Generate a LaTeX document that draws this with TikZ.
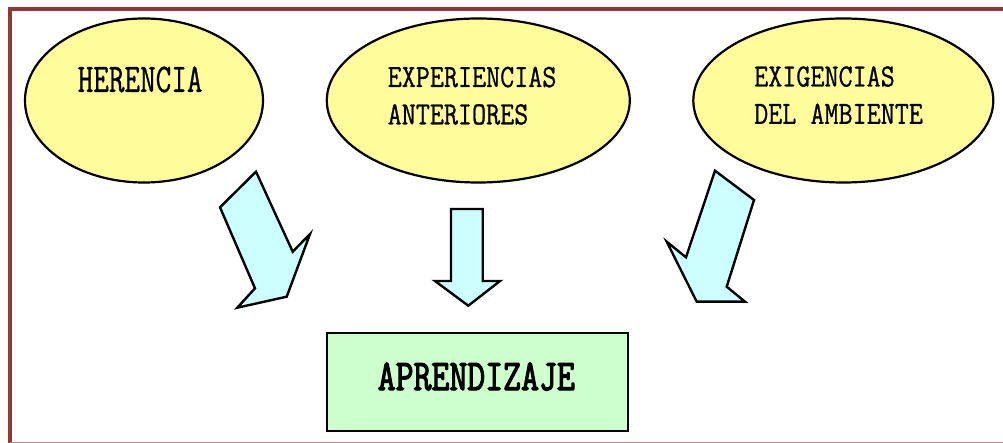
\documentclass[tikz,border=0pt]{standalone}
\usepackage{fontspec}
\setmonofont{Latin Modern Mono}
\newfontfamily\regtt{Latin Modern Mono}[FakeBold=0.8]
\newfontfamily\boldtt{Latin Modern Mono}[FakeBold=3]
\usetikzlibrary{shapes.geometric}
\definecolor{framebrown}{RGB}{148,54,52}
\definecolor{ellfill}{RGB}{255,253,153}
\definecolor{arrfill}{RGB}{204,255,255}
\definecolor{boxfill}{RGB}{204,255,204}
\begin{document}
\begin{tikzpicture}[x=1pt,y=-1pt,
  ell/.style={ellipse, draw=black, line width=2.2pt, fill=ellfill, inner sep=0pt},
  lbl/.style={anchor=base west, inner sep=0pt, font=\fontsize{30}{34.6}\selectfont\regtt},
  blk/.style={draw=black, line width=2.4pt, fill=arrfill, line join=miter},
  resultbox/.style={draw=black, line width=2.2pt, fill=boxfill, inner sep=0pt},
  boldlbl/.style={anchor=base west, inner sep=0pt, font=\fontsize{30}{36}\selectfont\boldtt}
  ]
\useasboundingbox (0,0) rectangle (1003,443);
% frame
\draw[framebrown, line width=4pt, line join=miter] (10,443) -- (10,9) -- (1003,9);
\draw[framebrown!60, line width=1pt] (10,442.5) -- (1003,442.5);
% ellipses
\node[ell, minimum width=238pt, minimum height=164pt] (e1) at (144,100.5) {};
\node[ell, minimum width=303pt, minimum height=164pt] (e2) at (478.3,100.5) {};
\node[ell, minimum width=300pt, minimum height=164pt] (e3) at (843.3,100.5) {};
% texts
\node[lbl] (t1) at (77.5,92) {\scalebox{1.01}[1.36]{HERENCIA}};
\node[lbl] (t2) at (387.5,87) {\scalebox{0.91}[1.08]{\begin{tabular}[t]{@{}l@{}}EXPERIENCIAS\\ANTERIORES\end{tabular}}};
\node[lbl] (t3) at (754,86.5) {\scalebox{0.91}[1.08]{\begin{tabular}[t]{@{}l@{}}EXIGENCIAS\\DEL AMBIENTE\end{tabular}}};
% block arrows
\draw[blk] (256,171.7) -- (220,207.3) -- (255,288.3) -- (237.3,307.7) -- (286.7,296.7)
  -- (310,234) -- (292.7,251.7) -- cycle;
\draw[blk] (451,209) -- (482.7,209) -- (482.7,281) -- (500,281) -- (468.3,305.7)
  -- (435,281) -- (451,281) -- cycle;
\draw[blk] (715,170.7) -- (754,200) -- (726.7,286.7) -- (745,301.7) -- (696.7,301.7)
  -- (666.7,241.7) -- (686,257.3) -- cycle;
% result box
\node[resultbox, minimum width=301pt, minimum height=97.7pt] (box) at (477.8,382.2) {};
\node[boldlbl] (boxlabel) at (377.5,390) {\scalebox{1.16}[1.46]{APRENDIZAJE}};
\end{tikzpicture}
\end{document}
